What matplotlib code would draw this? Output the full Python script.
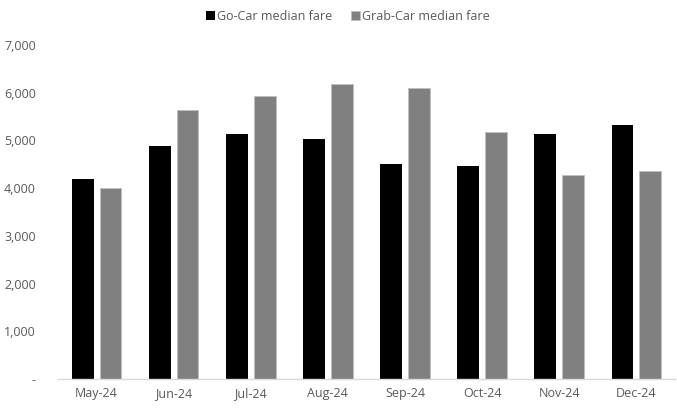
import matplotlib
matplotlib.use("Agg")
import matplotlib.pyplot as plt
import numpy as np
from matplotlib.ticker import FuncFormatter

months = ["May-24", "Jun-24", "Jul-24", "Aug-24", "Sep-24", "Oct-24", "Nov-24", "Dec-24"]
gocar = [4200, 4890, 5140, 5030, 4500, 4470, 5140, 5330]
grabcar = [4000, 5630, 5930, 6180, 6090, 5170, 4280, 4360]
series_names = ["Go-Car median fare", "Grab-Car median fare"]

plt.rcParams['font.family'] = ['Open Sans', 'DejaVu Sans']
text_color = '#595959'

fig = plt.figure(figsize=(6.77, 4.09), dpi=100)
ax = fig.add_axes([0.0857, 0.0733, 0.9113, 0.8167])

x = np.arange(len(months))
w = 0.283
off = 0.18
ax.bar(x - off, gocar, width=w, color='#000000', label=series_names[0], zorder=2)
ax.bar(x + off, grabcar, width=w, color='#808080', edgecolor='#bfbfbf', linewidth=0.6,
       label=series_names[1], zorder=2)

ax.set_xlim(-0.5, len(months) - 0.5)
ax.set_ylim(0, 7000)
ax.set_yticks(np.arange(0, 7001, 1000))
ax.yaxis.set_major_formatter(FuncFormatter(lambda v, p: '-' if v == 0 else f"{int(v):,}"))
ax.set_xticks(x)
ax.set_xticklabels(months)

for s in ['top', 'right', 'left']:
    ax.spines[s].set_visible(False)
ax.spines['bottom'].set_color('#d9d9d9')
ax.spines['bottom'].set_linewidth(1.0)
ax.tick_params(axis='both', length=0, labelsize=9, colors=text_color)
ax.tick_params(axis='y', pad=16)
ax.tick_params(axis='x', pad=6)

leg = fig.legend(loc='upper center', bbox_to_anchor=(0.514, 1.004), ncol=2, frameon=False,
                 fontsize=9, handlelength=0.7, handleheight=0.7, handletextpad=0.2,
                 columnspacing=1.5)
for t in leg.get_texts():
    t.set_color(text_color)

fig.savefig("out.png", dpi=100)
